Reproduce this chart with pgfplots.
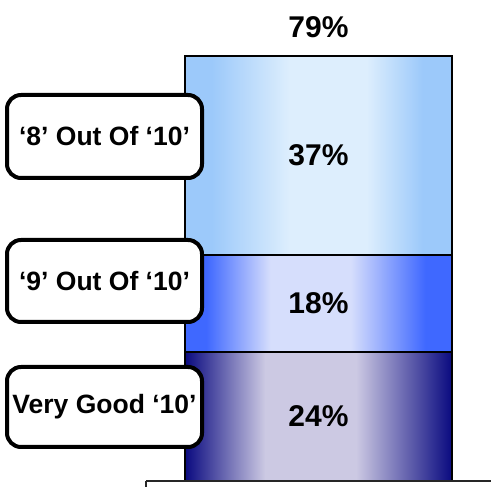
\documentclass[border=0pt]{standalone}
\usepackage{pgfplots}
\pgfplotsset{compat=1.18}
\usepackage{fontspec}
\setmainfont{Liberation Sans}
\definecolor{topL}{HTML}{9CC9FA}
\definecolor{topM}{HTML}{DDEEFD}
\definecolor{midL}{HTML}{3F68FF}
\definecolor{midM}{HTML}{D6DEFC}
\definecolor{botL}{HTML}{0A0A80}
\definecolor{botM}{HTML}{CCC9E3}
\pgfdeclarehorizontalshading{botsh}{100bp}{color(0bp)=(botL); color(25bp)=(botL); color(40bp)=(botM); color(57bp)=(botM); color(75bp)=(botL); color(100bp)=(botL)}
\pgfdeclarehorizontalshading{midsh}{100bp}{color(0bp)=(midL); color(29bp)=(midL); color(41bp)=(midM); color(56bp)=(midM); color(70bp)=(midL); color(100bp)=(midL)}
\pgfdeclarehorizontalshading{topsh}{100bp}{color(0bp)=(topL); color(30bp)=(topL); color(44.5bp)=(topM); color(59bp)=(topM); color(69.5bp)=(topL); color(100bp)=(topL)}
\begin{document}
\begin{tikzpicture}[x=1pt,y=1pt]
\path[use as bounding box] (0,0) rectangle (491,487);
\begin{axis}[
  at={(0pt,6pt)}, anchor=south west,
  scale only axis, width=491pt, height=425pt,
  xmin=0, xmax=491, ymin=0, ymax=79,
  hide axis, clip=false,
  ybar stacked, bar width=267pt,
]
\addplot[draw=black, line width=1.3pt, shading=botsh] coordinates {(318.5,24)};
\addplot[draw=black, line width=1.3pt, shading=midsh] coordinates {(318.5,18)};
\addplot[draw=black, line width=1.3pt, shading=topsh] coordinates {(318.5,37)};
\end{axis}
\begin{scope}[every node/.style={font=\fontsize{30}{34}\selectfont\bfseries}]
\node at (318.5,70.5) {24\%};
\node at (318.5,184) {18\%};
\node at (318.5,331.5) {37\%};
\node[anchor=base] at (318.5,449) {79\%};
\end{scope}
\draw[line width=2pt, color=black!85] (146,5.5) -- (491,5.5);
\draw[line width=2pt, color=black!85] (146,5.5) -- (146,-2);
\foreach \yt/\yb/\txt in {392/309/{‘8’ Out Of ‘10’}, 247/165/{‘9’ Out Of ‘10’}, 120/40/{Very Good ‘10’}}{
  \draw[line width=4pt, rounded corners=14pt, fill=white] (7,\yt) rectangle (202,\yb);
  \node[font=\fontsize{26.5}{30}\selectfont\bfseries] at (104.5,{(\yt+\yb)/2}) {\txt};
}
\end{tikzpicture}
\end{document}
